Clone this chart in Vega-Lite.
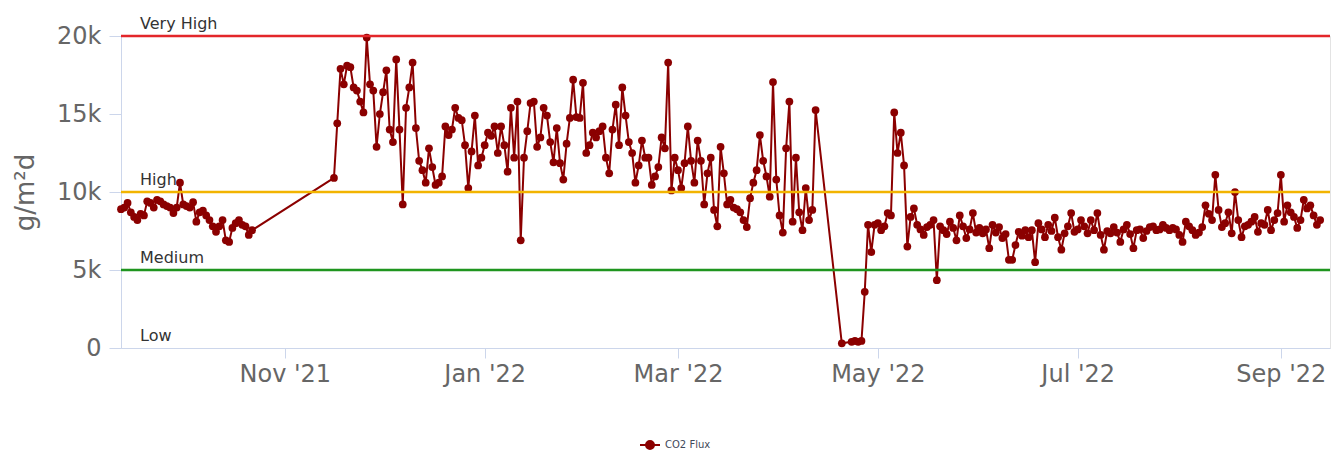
{
  "$schema": "https://vega.github.io/schema/vega-lite/v6.json",
  "width": 1209,
  "height": 312,
  "autosize": {"type": "none"},
  "padding": {"left": 121, "top": 36, "right": 4, "bottom": 104},
  "background": "#ffffff",
  "config": {
    "view": {"stroke": "#e3e3e3", "strokeWidth": 1},
    "font": "DejaVu Sans"
  },
  "datasets": {
    "flux": [
      {"date":"2021-09-12","flux":8900},{"date":"2021-09-13","flux":9000},{"date":"2021-09-14","flux":9300},{"date":"2021-09-15","flux":8700},{"date":"2021-09-16","flux":8400},{"date":"2021-09-17","flux":8200},{"date":"2021-09-18","flux":8600},{"date":"2021-09-19","flux":8500},{"date":"2021-09-20","flux":9400},{"date":"2021-09-21","flux":9300},{"date":"2021-09-22","flux":9000},{"date":"2021-09-23","flux":9500},{"date":"2021-09-24","flux":9400},{"date":"2021-09-25","flux":9200},{"date":"2021-09-26","flux":9100},{"date":"2021-09-27","flux":9000},{"date":"2021-09-28","flux":8650},{"date":"2021-09-29","flux":9000},{"date":"2021-09-30","flux":10600},
      {"date":"2021-10-01","flux":9200},{"date":"2021-10-02","flux":9100},{"date":"2021-10-03","flux":9000},{"date":"2021-10-04","flux":9350},{"date":"2021-10-05","flux":8100},{"date":"2021-10-06","flux":8700},{"date":"2021-10-07","flux":8800},{"date":"2021-10-08","flux":8500},{"date":"2021-10-09","flux":8200},{"date":"2021-10-10","flux":7800},{"date":"2021-10-11","flux":7450},{"date":"2021-10-12","flux":7800},{"date":"2021-10-13","flux":8200},{"date":"2021-10-14","flux":6900},{"date":"2021-10-15","flux":6800},{"date":"2021-10-16","flux":7700},{"date":"2021-10-17","flux":8000},{"date":"2021-10-18","flux":8200},{"date":"2021-10-19","flux":7900},{"date":"2021-10-20","flux":7800},{"date":"2021-10-21","flux":7250},{"date":"2021-10-22","flux":7550},
      {"date":"2021-11-16","flux":10900},{"date":"2021-11-17","flux":14400},{"date":"2021-11-18","flux":17900},{"date":"2021-11-19","flux":16900},{"date":"2021-11-20","flux":18100},{"date":"2021-11-21","flux":18000},{"date":"2021-11-22","flux":16700},{"date":"2021-11-23","flux":16500},{"date":"2021-11-24","flux":15800},{"date":"2021-11-25","flux":15100},{"date":"2021-11-26","flux":19900},{"date":"2021-11-27","flux":16900},{"date":"2021-11-28","flux":16500},{"date":"2021-11-29","flux":12900},{"date":"2021-11-30","flux":15000},
      {"date":"2021-12-01","flux":16400},{"date":"2021-12-02","flux":17800},{"date":"2021-12-03","flux":14000},{"date":"2021-12-04","flux":13200},{"date":"2021-12-05","flux":18500},{"date":"2021-12-06","flux":14000},{"date":"2021-12-07","flux":9200},{"date":"2021-12-08","flux":15400},{"date":"2021-12-09","flux":16700},{"date":"2021-12-10","flux":18300},{"date":"2021-12-11","flux":14100},{"date":"2021-12-12","flux":12000},{"date":"2021-12-13","flux":11400},{"date":"2021-12-14","flux":10600},{"date":"2021-12-15","flux":12800},{"date":"2021-12-16","flux":11600},{"date":"2021-12-17","flux":10450},{"date":"2021-12-18","flux":10600},{"date":"2021-12-19","flux":11000},{"date":"2021-12-20","flux":14200},{"date":"2021-12-21","flux":13650},{"date":"2021-12-22","flux":14000},{"date":"2021-12-23","flux":15400},{"date":"2021-12-24","flux":14750},{"date":"2021-12-25","flux":14600},{"date":"2021-12-26","flux":13000},{"date":"2021-12-27","flux":10250},{"date":"2021-12-28","flux":12600},{"date":"2021-12-29","flux":14900},{"date":"2021-12-30","flux":11700},{"date":"2021-12-31","flux":12200},
      {"date":"2022-01-01","flux":13000},{"date":"2022-01-02","flux":13800},{"date":"2022-01-03","flux":13600},{"date":"2022-01-04","flux":14200},{"date":"2022-01-05","flux":12500},{"date":"2022-01-06","flux":14200},{"date":"2022-01-07","flux":13000},{"date":"2022-01-08","flux":11300},{"date":"2022-01-09","flux":15400},{"date":"2022-01-10","flux":12200},{"date":"2022-01-11","flux":15800},{"date":"2022-01-12","flux":6900},{"date":"2022-01-13","flux":12200},{"date":"2022-01-14","flux":13900},{"date":"2022-01-15","flux":15700},{"date":"2022-01-16","flux":15800},{"date":"2022-01-17","flux":12900},{"date":"2022-01-18","flux":13500},{"date":"2022-01-19","flux":15400},{"date":"2022-01-20","flux":14900},{"date":"2022-01-21","flux":13200},{"date":"2022-01-22","flux":11900},{"date":"2022-01-23","flux":14100},{"date":"2022-01-24","flux":11850},{"date":"2022-01-25","flux":10800},{"date":"2022-01-26","flux":13100},{"date":"2022-01-27","flux":14750},{"date":"2022-01-28","flux":17200},{"date":"2022-01-29","flux":14800},{"date":"2022-01-30","flux":14750},{"date":"2022-01-31","flux":17000},
      {"date":"2022-02-01","flux":12500},{"date":"2022-02-02","flux":13000},{"date":"2022-02-03","flux":13800},{"date":"2022-02-04","flux":13500},{"date":"2022-02-05","flux":13900},{"date":"2022-02-06","flux":14200},{"date":"2022-02-07","flux":12200},{"date":"2022-02-08","flux":11200},{"date":"2022-02-09","flux":14000},{"date":"2022-02-10","flux":15600},{"date":"2022-02-11","flux":13000},{"date":"2022-02-12","flux":16700},{"date":"2022-02-13","flux":14900},{"date":"2022-02-14","flux":13200},{"date":"2022-02-15","flux":12500},{"date":"2022-02-16","flux":10600},{"date":"2022-02-17","flux":11700},{"date":"2022-02-18","flux":13300},{"date":"2022-02-19","flux":12200},{"date":"2022-02-20","flux":12200},{"date":"2022-02-21","flux":10450},{"date":"2022-02-22","flux":11000},{"date":"2022-02-23","flux":11600},{"date":"2022-02-24","flux":13500},{"date":"2022-02-25","flux":12800},{"date":"2022-02-26","flux":18300},{"date":"2022-02-27","flux":10100},{"date":"2022-02-28","flux":12200},
      {"date":"2022-03-01","flux":11400},{"date":"2022-03-02","flux":10250},{"date":"2022-03-03","flux":11850},{"date":"2022-03-04","flux":14200},{"date":"2022-03-05","flux":12000},{"date":"2022-03-06","flux":10600},{"date":"2022-03-07","flux":13300},{"date":"2022-03-08","flux":12000},{"date":"2022-03-09","flux":9200},{"date":"2022-03-10","flux":11200},{"date":"2022-03-11","flux":12200},{"date":"2022-03-12","flux":8850},{"date":"2022-03-13","flux":7800},{"date":"2022-03-14","flux":12900},{"date":"2022-03-15","flux":11200},{"date":"2022-03-16","flux":9200},{"date":"2022-03-17","flux":9500},{"date":"2022-03-18","flux":9000},{"date":"2022-03-19","flux":8900},{"date":"2022-03-20","flux":8700},{"date":"2022-03-21","flux":8200},{"date":"2022-03-22","flux":7750},{"date":"2022-03-23","flux":9600},{"date":"2022-03-24","flux":10600},{"date":"2022-03-25","flux":11400},{"date":"2022-03-26","flux":13650},{"date":"2022-03-27","flux":12000},{"date":"2022-03-28","flux":11000},{"date":"2022-03-29","flux":9700},{"date":"2022-03-30","flux":17050},{"date":"2022-03-31","flux":10800},
      {"date":"2022-04-01","flux":8500},{"date":"2022-04-02","flux":7400},{"date":"2022-04-03","flux":12800},{"date":"2022-04-04","flux":15800},{"date":"2022-04-05","flux":8100},{"date":"2022-04-06","flux":12200},{"date":"2022-04-07","flux":8700},{"date":"2022-04-08","flux":7550},{"date":"2022-04-09","flux":10250},{"date":"2022-04-10","flux":8200},{"date":"2022-04-11","flux":8850},{"date":"2022-04-12","flux":15250},{"date":"2022-04-20","flux":300},{"date":"2022-04-23","flux":400},{"date":"2022-04-24","flux":450},{"date":"2022-04-25","flux":400},{"date":"2022-04-26","flux":450},{"date":"2022-04-27","flux":3600},{"date":"2022-04-28","flux":7900},{"date":"2022-04-29","flux":6150},{"date":"2022-04-30","flux":7900},
      {"date":"2022-05-01","flux":8000},{"date":"2022-05-02","flux":7550},{"date":"2022-05-03","flux":7800},{"date":"2022-05-04","flux":8650},{"date":"2022-05-05","flux":8500},{"date":"2022-05-06","flux":15100},{"date":"2022-05-07","flux":12500},{"date":"2022-05-08","flux":13800},{"date":"2022-05-09","flux":11700},{"date":"2022-05-10","flux":6500},{"date":"2022-05-11","flux":8400},{"date":"2022-05-12","flux":8950},{"date":"2022-05-13","flux":7900},{"date":"2022-05-14","flux":7600},{"date":"2022-05-15","flux":7250},{"date":"2022-05-16","flux":7750},{"date":"2022-05-17","flux":7900},{"date":"2022-05-18","flux":8200},{"date":"2022-05-19","flux":4350},{"date":"2022-05-20","flux":7800},{"date":"2022-05-21","flux":7550},{"date":"2022-05-22","flux":7300},{"date":"2022-05-23","flux":8100},{"date":"2022-05-24","flux":7700},{"date":"2022-05-25","flux":6900},{"date":"2022-05-26","flux":8500},{"date":"2022-05-27","flux":7800},{"date":"2022-05-28","flux":7050},{"date":"2022-05-29","flux":7600},{"date":"2022-05-30","flux":8650},{"date":"2022-05-31","flux":7400},
      {"date":"2022-06-01","flux":7700},{"date":"2022-06-02","flux":7350},{"date":"2022-06-03","flux":7600},{"date":"2022-06-04","flux":6400},{"date":"2022-06-05","flux":7900},{"date":"2022-06-06","flux":7400},{"date":"2022-06-07","flux":7750},{"date":"2022-06-08","flux":7050},{"date":"2022-06-09","flux":7300},{"date":"2022-06-10","flux":5650},{"date":"2022-06-11","flux":5650},{"date":"2022-06-12","flux":6600},{"date":"2022-06-13","flux":7450},{"date":"2022-06-14","flux":7200},{"date":"2022-06-15","flux":7550},{"date":"2022-06-16","flux":7100},{"date":"2022-06-17","flux":7550},{"date":"2022-06-18","flux":5500},{"date":"2022-06-19","flux":8000},{"date":"2022-06-20","flux":7600},{"date":"2022-06-21","flux":7100},{"date":"2022-06-22","flux":7900},{"date":"2022-06-23","flux":7500},{"date":"2022-06-24","flux":8350},{"date":"2022-06-25","flux":7100},{"date":"2022-06-26","flux":6300},{"date":"2022-06-27","flux":7350},{"date":"2022-06-28","flux":7800},{"date":"2022-06-29","flux":8650},{"date":"2022-06-30","flux":7450},
      {"date":"2022-07-01","flux":7600},{"date":"2022-07-02","flux":8200},{"date":"2022-07-03","flux":7800},{"date":"2022-07-04","flux":7350},{"date":"2022-07-05","flux":8200},{"date":"2022-07-06","flux":7550},{"date":"2022-07-07","flux":8650},{"date":"2022-07-08","flux":7250},{"date":"2022-07-09","flux":6300},{"date":"2022-07-10","flux":7500},{"date":"2022-07-11","flux":7350},{"date":"2022-07-12","flux":7750},{"date":"2022-07-13","flux":7400},{"date":"2022-07-14","flux":6800},{"date":"2022-07-15","flux":7600},{"date":"2022-07-16","flux":7900},{"date":"2022-07-17","flux":7300},{"date":"2022-07-18","flux":6400},{"date":"2022-07-19","flux":7550},{"date":"2022-07-20","flux":7600},{"date":"2022-07-21","flux":7050},{"date":"2022-07-22","flux":7500},{"date":"2022-07-23","flux":7750},{"date":"2022-07-24","flux":7800},{"date":"2022-07-25","flux":7550},{"date":"2022-07-26","flux":7600},{"date":"2022-07-27","flux":7900},{"date":"2022-07-28","flux":7700},{"date":"2022-07-29","flux":7550},{"date":"2022-07-30","flux":7700},{"date":"2022-07-31","flux":7600},
      {"date":"2022-08-01","flux":7250},{"date":"2022-08-02","flux":6800},{"date":"2022-08-03","flux":8100},{"date":"2022-08-04","flux":7800},{"date":"2022-08-05","flux":7550},{"date":"2022-08-06","flux":7250},{"date":"2022-08-07","flux":7400},{"date":"2022-08-08","flux":7750},{"date":"2022-08-09","flux":9150},{"date":"2022-08-10","flux":8600},{"date":"2022-08-11","flux":8200},{"date":"2022-08-12","flux":11100},{"date":"2022-08-13","flux":8850},{"date":"2022-08-14","flux":7750},{"date":"2022-08-15","flux":8000},{"date":"2022-08-16","flux":8700},{"date":"2022-08-17","flux":7350},{"date":"2022-08-18","flux":10000},{"date":"2022-08-19","flux":8200},{"date":"2022-08-20","flux":7100},{"date":"2022-08-21","flux":7800},{"date":"2022-08-22","flux":7900},{"date":"2022-08-23","flux":8100},{"date":"2022-08-24","flux":8400},{"date":"2022-08-25","flux":7450},{"date":"2022-08-26","flux":8000},{"date":"2022-08-27","flux":7900},{"date":"2022-08-28","flux":8850},{"date":"2022-08-29","flux":7550},{"date":"2022-08-30","flux":8200},{"date":"2022-08-31","flux":8650},
      {"date":"2022-09-01","flux":11100},{"date":"2022-09-02","flux":8100},{"date":"2022-09-03","flux":9150},{"date":"2022-09-04","flux":8700},{"date":"2022-09-05","flux":8400},{"date":"2022-09-06","flux":7700},{"date":"2022-09-07","flux":8200},{"date":"2022-09-08","flux":9500},{"date":"2022-09-09","flux":8950},{"date":"2022-09-10","flux":9150},{"date":"2022-09-11","flux":8500},{"date":"2022-09-12","flux":7900},{"date":"2022-09-13","flux":8200}
    ],
    "levels": [
      {"level": "Very High", "value": 20000},
      {"level": "High", "value": 10000},
      {"level": "Medium", "value": 5000},
      {"level": "Low", "value": 0}
    ]
  },
  "layer": [
    {
      "data": {"name": "flux"},
      "mark": {"type": "line", "strokeWidth": 2, "clip": true},
      "encoding": {
        "x": {
          "field": "date", "type": "temporal",
          "scale": {"domain": [{"year": 2021, "month": 9, "date": 12}, {"year": 2022, "month": 9, "date": 16}], "nice": false},
          "axis": {
            "title": null,
            "format": "%b '%y",
            "tickCount": {"interval": "month", "step": 2},
            "grid": false,
            "domainColor": "#ccd6eb",
            "tickColor": "#ccd6eb",
            "tickSize": 10,
            "labelFontSize": 24,
            "labelColor": "#666666",
            "labelPadding": 4,
            "labelFlush": false
          }
        },
        "y": {
          "field": "flux", "type": "quantitative",
          "scale": {"domain": [0, 20000], "nice": false},
          "axis": {
            "title": "g/m²d",
            "values": [0, 5000, 10000, 15000, 20000],
            "labelExpr": "datum.value === 0 ? '0' : (datum.value / 1000) + 'k'",
            "grid": false,
            "domainColor": "#ccd6eb",
            "tickColor": "#ccd6eb",
            "tickSize": 12,
            "labelFontSize": 24,
            "labelColor": "#666666",
            "labelPadding": 8,
            "titleFontSize": 26,
            "titleFontWeight": "normal",
            "titleColor": "#666666",
            "titlePadding": 18
          }
        },
        "color": {
          "datum": "CO2 Flux",
          "type": "nominal",
          "scale": {"range": ["#8b0000"]},
          "legend": {
            "title": null,
            "orient": "none",
            "legendX": 518,
            "legendY": 398,
            "direction": "horizontal",
            "symbolType": "M-1,0L1,0M-0.4,0A0.4,0.4,0,1,1,0.4,0A0.4,0.4,0,1,1,-0.4,0Z",
            "symbolSize": 400,
            "symbolStrokeWidth": 2,
            "symbolFillColor": "#8b0000",
            "symbolStrokeColor": "#8b0000",
            "labelFontSize": 10,
            "labelColor": "#3f4a5a"
          }
        }
      }
    },
    {
      "data": {"name": "flux"},
      "mark": {"type": "point", "filled": true, "size": 60, "opacity": 1},
      "encoding": {
        "x": {"field": "date", "type": "temporal"},
        "y": {"field": "flux", "type": "quantitative"},
        "color": {"datum": "CO2 Flux", "type": "nominal"}
      }
    },
    {
      "data": {"name": "levels"},
      "mark": {"type": "rule", "strokeWidth": 2.5},
      "encoding": {
        "y": {"field": "value", "type": "quantitative"},
        "stroke": {
          "field": "level", "type": "nominal",
          "scale": {"domain": ["Very High", "High", "Medium", "Low"], "range": ["#e3262a", "#f2b400", "#1f951f", "rgba(0,0,0,0)"]},
          "legend": null
        }
      }
    },
    {
      "data": {"name": "levels"},
      "mark": {"type": "text", "align": "left", "baseline": "bottom", "dx": 19, "dy": -4, "fontSize": 16, "color": "#333333"},
      "encoding": {
        "x": {"datum": {"year": 2021, "month": 9, "date": 12}, "type": "temporal"},
        "y": {"field": "value", "type": "quantitative"},
        "text": {"field": "level"}
      }
    }
  ],
  "resolve": {"scale": {"stroke": "independent"}}
}
